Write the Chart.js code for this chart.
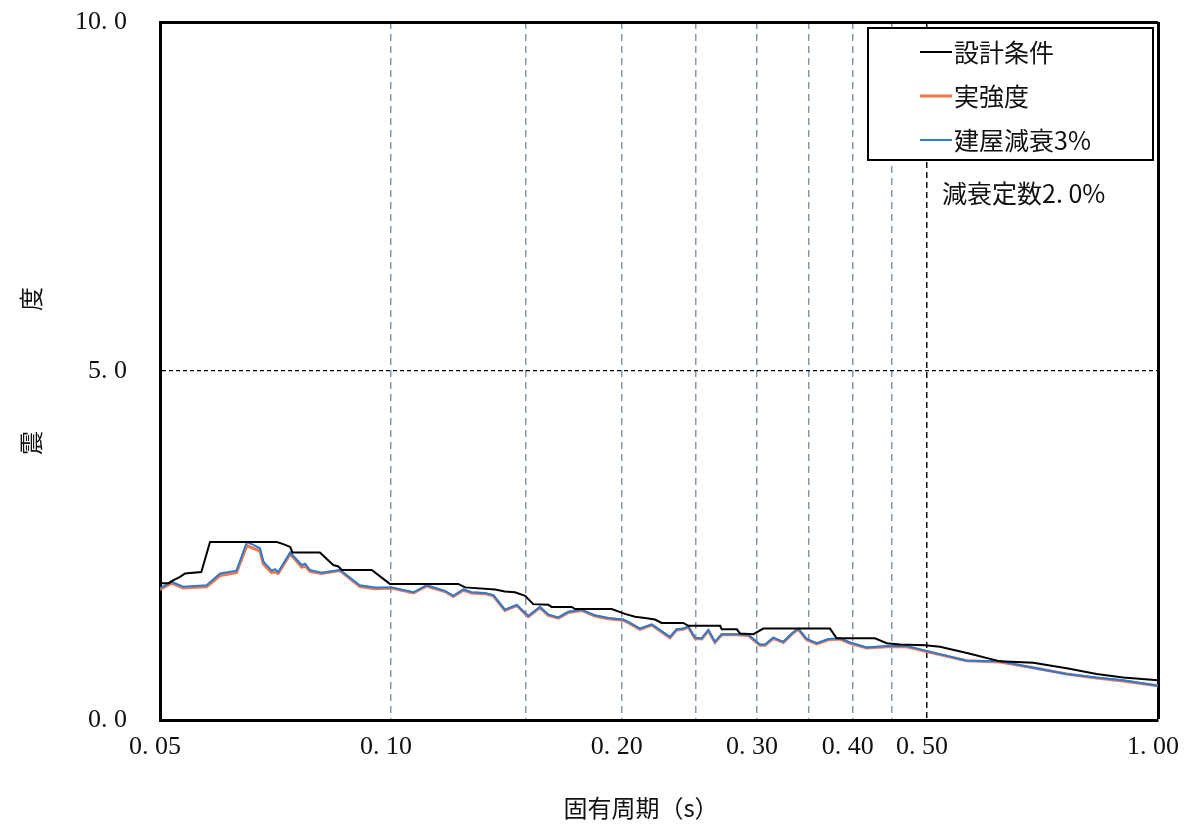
<!DOCTYPE html>
<html>
<head>
<meta charset="utf-8">
<script src="https://cdn.jsdelivr.net/npm/chart.js@4.4.1/dist/chart.umd.min.js"></script>
<style>
  html, body { margin: 0; padding: 0; background: #ffffff; }
  #wrap { position: relative; width: 1184px; height: 829px; }
</style>
</head>
<body>
<div id="wrap"><canvas id="c" width="1184" height="829"></canvas></div>
<script>
// ---- Data ----
const seriesLabels = ["設計条件", "実強度", "建屋減衰3%"];
const annotationText = "減衰定数2. 0%";
const xTitle = "固有周期（s）";
const yTitle = "震　　　　　度";

const xTickValues = [0.05, 0.10, 0.20, 0.30, 0.40, 0.50, 1.00];
const xTickLabels = ["0. 05", "0. 10", "0. 20", "0. 30", "0. 40", "0. 50", "1. 00"];
const xGridValues = [0.05, 0.10, 0.15, 0.20, 0.25, 0.30, 0.35, 0.40, 0.45, 0.50, 1.00];
const yTickValues = [0, 5, 10];
const yTickLabels = ["0. 0", "5. 0", "10. 0"];

// 設計条件 (black)
const periodsDesign = [0.0500, 0.0513, 0.0520, 0.0531, 0.0539, 0.0566, 0.0581, 0.0710, 0.0724, 0.0739,
  0.0744, 0.0808, 0.0841, 0.0854, 0.0863, 0.0944, 0.0997, 0.1224, 0.1249, 0.1367,
  0.1408, 0.1451, 0.1496, 0.1533, 0.1604, 0.1620, 0.1721, 0.1738, 0.1940, 0.2019,
  0.2081, 0.2144, 0.2209, 0.2254, 0.2405, 0.2442, 0.2686, 0.2699, 0.2824, 0.2852,
  0.2968, 0.3058, 0.3736, 0.3812, 0.4276, 0.4429, 0.4610, 0.4969, 0.5198, 0.5687,
  0.6223, 0.6877, 0.7602, 0.8319, 0.9010, 1.0000];
const valuesDesign = [1.96, 1.96, 2.00, 2.05, 2.10, 2.12, 2.55, 2.55, 2.52, 2.48,
  2.40, 2.40, 2.22, 2.20, 2.15, 2.15, 1.95, 1.95, 1.90, 1.87,
  1.84, 1.83, 1.78, 1.66, 1.65, 1.62, 1.62, 1.59, 1.59, 1.52,
  1.48, 1.46, 1.44, 1.39, 1.39, 1.35, 1.35, 1.30, 1.30, 1.24,
  1.23, 1.31, 1.31, 1.17, 1.17, 1.10, 1.08, 1.07, 1.05, 0.95,
  0.84, 0.82, 0.74, 0.66, 0.61, 0.57];

// 実強度 (red) and 建屋減衰3% (blue) share periods
const periodsResp = [0.0500, 0.0518, 0.0536, 0.0575, 0.0599, 0.0629, 0.0649, 0.0662, 0.0675, 0.0682,
  0.0699, 0.0706, 0.0713, 0.0739, 0.0765, 0.0773, 0.0784, 0.0812, 0.0858, 0.0911,
  0.0953, 0.1002, 0.1070, 0.1113, 0.1176, 0.1206, 0.1243, 0.1274, 0.1326, 0.1360,
  0.1408, 0.1459, 0.1510, 0.1564, 0.1604, 0.1653, 0.1703, 0.1773, 0.1845, 0.1921,
  0.2009, 0.2050, 0.2112, 0.2188, 0.2311, 0.2358, 0.2405, 0.2442, 0.2491, 0.2542,
  0.2593, 0.2645, 0.2699, 0.2824, 0.2924, 0.3028, 0.3074, 0.3151, 0.3248, 0.3331,
  0.3397, 0.3484, 0.3590, 0.3717, 0.3850, 0.3968, 0.4171, 0.4429, 0.4703, 0.4994,
  0.5631, 0.6223, 0.6877, 0.7602, 0.8319, 0.9010, 1.0000];
const valuesBuilding = [1.89, 1.98, 1.91, 1.93, 2.10, 2.14, 2.55, 2.51, 2.46, 2.27,
  2.14, 2.16, 2.12, 2.40, 2.22, 2.24, 2.15, 2.11, 2.15, 1.93,
  1.90, 1.90, 1.83, 1.93, 1.85, 1.78, 1.87, 1.83, 1.82, 1.79,
  1.58, 1.65, 1.49, 1.62, 1.51, 1.47, 1.55, 1.58, 1.50, 1.46,
  1.44, 1.39, 1.31, 1.37, 1.19, 1.30, 1.31, 1.34, 1.18, 1.17,
  1.29, 1.12, 1.23, 1.23, 1.22, 1.08, 1.08, 1.18, 1.12, 1.24,
  1.31, 1.16, 1.10, 1.16, 1.17, 1.11, 1.04, 1.06, 1.06, 0.99,
  0.85, 0.84, 0.75, 0.66, 0.61, 0.57, 0.49];
const valuesActual = [1.87, 1.96, 1.89, 1.91, 2.07, 2.11, 2.50, 2.46, 2.42, 2.23,
  2.11, 2.12, 2.10, 2.38, 2.19, 2.21, 2.13, 2.10, 2.14, 1.91,
  1.88, 1.89, 1.82, 1.92, 1.84, 1.77, 1.86, 1.82, 1.81, 1.78,
  1.57, 1.64, 1.48, 1.61, 1.50, 1.46, 1.54, 1.57, 1.49, 1.45,
  1.43, 1.38, 1.30, 1.36, 1.18, 1.29, 1.30, 1.33, 1.17, 1.16,
  1.28, 1.11, 1.22, 1.22, 1.21, 1.07, 1.07, 1.17, 1.11, 1.23,
  1.30, 1.15, 1.09, 1.15, 1.16, 1.10, 1.03, 1.05, 1.05, 0.98,
  0.85, 0.83, 0.75, 0.66, 0.60, 0.56, 0.49];

// ---- Chart ----
const toXY = (xs, ys) => xs.map((x, i) => ({ x: x, y: ys[i] }));
const near = (a, b) => Math.abs(a - b) < 1e-6;
const numFont = "'Liberation Serif', 'Noto Sans CJK JP', serif";
const cjkFont = "'Noto Sans CJK JP', 'Liberation Serif', sans-serif";

const boxLegend = {
  id: 'boxLegend',
  afterDraw(chart) {
    const ctx = chart.ctx;
    const a = chart.chartArea;
    const x0 = a.right - 290, y0 = a.top + 6, w = 285, h = 132;
    ctx.save();
    ctx.fillStyle = '#ffffff';
    ctx.fillRect(x0, y0, w, h);
    ctx.strokeStyle = '#000000';
    ctx.lineWidth = 2;
    ctx.strokeRect(x0, y0, w, h);
    ctx.font = "25px " + cjkFont;
    ctx.textBaseline = 'middle';
    ctx.textAlign = 'left';
    const order = [0, 1, 2];
    order.forEach((i, row) => {
      const ds = chart.data.datasets[i];
      const y = y0 + 24 + row * 44;
      ctx.strokeStyle = ds.borderColor;
      ctx.lineWidth = ds.borderWidth;
      ctx.beginPath();
      ctx.moveTo(x0 + 52, y);
      ctx.lineTo(x0 + 84, y);
      ctx.stroke();
      ctx.fillStyle = '#111111';
      ctx.fillText(ds.label, x0 + 86, y);
    });
    ctx.fillStyle = '#111111';
    ctx.fillText(annotationText, a.right - 216, a.top + 171);
    ctx.restore();
  }
};

new Chart(document.getElementById('c'), {
  type: 'line',
  data: {
    datasets: [
      { label: seriesLabels[0], data: toXY(periodsDesign, valuesDesign), borderColor: '#000000', borderWidth: 2, order: 0 },
      { label: seriesLabels[1], data: toXY(periodsResp, valuesActual), borderColor: '#f2774f', borderWidth: 3, order: 2 },
      { label: seriesLabels[2], data: toXY(periodsResp, valuesBuilding), borderColor: '#2a7bd2', borderWidth: 2, order: 1 }
    ]
  },
  options: {
    responsive: false,
    animation: false,
    devicePixelRatio: 1,
    layout: { padding: { top: 22, right: 26, left: 0, bottom: 0 } },
    elements: { point: { radius: 0 }, line: { tension: 0 } },
    plugins: { legend: { display: false }, tooltip: { enabled: false } },
    scales: {
      x: {
        type: 'logarithmic',
        min: 0.05,
        max: 1.0,
        afterFit(scale) {
          scale.height = 109;
          scale.paddingLeft = 0; scale.paddingRight = 0;
          scale.paddingTop = 0; scale.paddingBottom = 0;
        },
        afterBuildTicks(scale) { scale.ticks = xGridValues.map(v => ({ value: v })); },
        ticks: {
          autoSkip: false,
          maxRotation: 0,
          padding: 12,
          labelOffset: -5,
          color: '#111111',
          font: { family: numFont, size: 26 },
          callback(value) {
            const idx = xTickValues.findIndex(v => near(v, value));
            return idx >= 0 ? xTickLabels[idx] : '';
          }
        },
        grid: {
          drawTicks: false,
          color(ctx) {
            const v = ctx.tick ? ctx.tick.value : null;
            if (v === null || near(v, 0.05)) return 'rgba(0,0,0,0)';
            if (near(v, 1.0)) return '#000000';
            if (near(v, 0.5)) return '#111111';
            return '#8797a6';
          },
          lineWidth(ctx) {
            const v = ctx.tick ? ctx.tick.value : null;
            if (v !== null && near(v, 1.0)) return 3;
            return 1.5;
          }
        },
        border: {
          display: true,
          color: '#000000',
          width: 3,
          dash(ctx) {
            const v = ctx.tick ? ctx.tick.value : null;
            if (v === null || near(v, 1.0) || near(v, 0.05)) return [];
            if (near(v, 0.5)) return [6, 4];
            return [7, 5];
          }
        },
        title: {
          display: true,
          text: xTitle + "　　",
          color: '#111111',
          font: { family: cjkFont, size: 24 },
          padding: { top: 0, bottom: 7 }
        }
      },
      y: {
        type: 'linear',
        min: 0,
        max: 10,
        afterFit(scale) {
          scale.width = 160;
          scale.paddingLeft = 0; scale.paddingRight = 0;
          scale.paddingTop = 0; scale.paddingBottom = 0;
        },
        afterBuildTicks(scale) { scale.ticks = yTickValues.map(v => ({ value: v })); },
        ticks: {
          padding: 33,
          color: '#111111',
          font: { family: numFont, size: 26 },
          callback(value) {
            const idx = yTickValues.findIndex(v => near(v, value));
            return idx >= 0 ? yTickLabels[idx] : '';
          }
        },
        grid: {
          drawTicks: false,
          color(ctx) {
            const v = ctx.tick ? ctx.tick.value : null;
            if (v === null || near(v, 0)) return 'rgba(0,0,0,0)';
            return '#000000';
          },
          lineWidth(ctx) {
            const v = ctx.tick ? ctx.tick.value : null;
            if (v !== null && near(v, 10)) return 3;
            return 1.2;
          }
        },
        border: {
          display: true,
          color: '#000000',
          width: 3,
          dash(ctx) {
            const v = ctx.tick ? ctx.tick.value : null;
            if (v !== null && near(v, 5)) return [4, 3];
            return [];
          }
        },
        title: {
          display: true,
          text: yTitle,
          color: '#111111',
          font: { family: cjkFont, size: 24 },
          padding: { top: 16, bottom: 0 }
        }
      }
    }
  },
  plugins: [boxLegend]
});
</script>
</body>
</html>
